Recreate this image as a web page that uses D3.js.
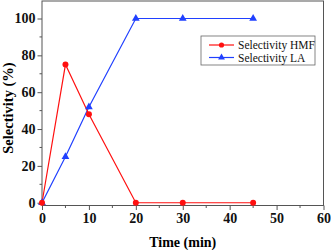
<!DOCTYPE html>
<html>
<head>
<meta charset="utf-8">
<script src="https://cdn.jsdelivr.net/npm/d3@7"></script>
<style>
  body { margin: 0; background: #fff; }
  svg { display: block; font-family: "Liberation Serif", "Times New Roman", serif; }
</style>
</head>
<body>
<div id="chart"></div>
<script>
// data
const times = [0, 5, 10, 20, 30, 45];
const hmf = [0, 75, 48, 0, 0, 0];
const la = [0, 25, 52, 100, 100, 100];
const xTicks = [0, 10, 20, 30, 40, 50, 60];
const yTicks = [0, 20, 40, 60, 80, 100];

const W = 331, H = 250;
const svg = d3.select('#chart').append('svg').attr('width', W).attr('height', H);

const x = d3.scaleLinear().domain([0, 60]).range([42, 323.5]);
const y = d3.scaleLinear().domain([-1.5, 109.5]).range([205.5, 1]);

// frame
svg.append('rect')
    .attr('x', x(0)).attr('y', y(109.5))
    .attr('width', x(60) - x(0)).attr('height', y(-1.5) - y(109.5))
    .attr('fill', 'none').attr('stroke', '#555').attr('stroke-width', 1);

// minor ticks
const xMinor = d3.range(5, 60, 10);
const yMinor = d3.range(10, 110, 20);
svg.append('g').selectAll('line').data(xMinor).join('line')
    .attr('x1', d => x(d)).attr('x2', d => x(d))
    .attr('y1', y(-1.5)).attr('y2', y(-1.5) + 2.5)
    .attr('stroke', '#555');
svg.append('g').selectAll('line').data(yMinor).join('line')
    .attr('x1', x(0) - 2.5).attr('x2', x(0))
    .attr('y1', d => y(d)).attr('y2', d => y(d))
    .attr('stroke', '#555');

const xAxis = svg.append('g')
    .attr('transform', `translate(0,${y(-1.5)})`)
    .call(d3.axisBottom(x).tickValues(xTicks).tickSize(4.5).tickPadding(3));
const yAxis = svg.append('g')
    .attr('transform', `translate(${x(0)},0)`)
    .call(d3.axisLeft(y).tickValues(yTicks).tickSize(4.5).tickPadding(2));
[xAxis, yAxis].forEach(g => {
    g.select('.domain').remove();
    g.selectAll('line').attr('stroke', '#555');
    g.selectAll('text')
        .attr('font-family', '"Liberation Serif", serif')
        .attr('font-weight', 'bold')
        .attr('font-size', 14)
        .attr('fill', '#111');
});

// axis titles
svg.append('text')
    .attr('x', (x(0) + x(60)) / 2).attr('y', 246.5)
    .attr('text-anchor', 'middle')
    .attr('font-weight', 'bold').attr('font-size', 14)
    .text('Time (min)');
svg.append('text')
    .attr('transform', 'translate(13,108) rotate(-90)')
    .attr('text-anchor', 'middle')
    .attr('font-weight', 'bold').attr('font-size', 14.5)
    .text('Selectivity (%)');

const red = '#ff1010', blue = '#2040ff';
const line = d3.line().x(d => x(d[0])).y(d => y(d[1]));
const hmfPts = times.map((t, i) => [t, hmf[i]]);
const laPts = times.map((t, i) => [t, la[i]]);

svg.append('path').datum(laPts).attr('d', line)
    .attr('fill', 'none').attr('stroke', blue).attr('stroke-width', 1.2);
svg.append('path').datum(hmfPts).attr('d', line)
    .attr('fill', 'none').attr('stroke', red).attr('stroke-width', 1.2);

const tri = d3.symbol().type(d3.symbolTriangle).size(26);
svg.append('g').selectAll('path').data(laPts).join('path')
    .attr('transform', d => `translate(${x(d[0])},${y(d[1])})`)
    .attr('d', tri).attr('fill', blue);
svg.append('g').selectAll('circle').data(hmfPts).join('circle')
    .attr('cx', d => x(d[0])).attr('cy', d => y(d[1])).attr('r', 3)
    .attr('fill', red);

// legend
const lg = svg.append('g').attr('transform', 'translate(201,36)');
lg.append('rect').attr('width', 114).attr('height', 29)
    .attr('fill', '#fff').attr('stroke', '#666').attr('stroke-width', 0.8);
const items = [['Selectivity HMF', red, 'circle'], ['Selectivity LA', blue, 'tri']];
items.forEach(([label, color, shape], i) => {
    const cy = 9 + i * 12.5;
    lg.append('line').attr('x1', 8).attr('x2', 33).attr('y1', cy).attr('y2', cy)
        .attr('stroke', color).attr('stroke-width', 1.2);
    if (shape === 'circle') {
        lg.append('circle').attr('cx', 20.5).attr('cy', cy).attr('r', 2.6).attr('fill', color);
    } else {
        lg.append('path').attr('transform', `translate(20.5,${cy})`)
            .attr('d', d3.symbol().type(d3.symbolTriangle).size(20)).attr('fill', color);
    }
    lg.append('text').attr('x', 37).attr('y', cy + 4)
        .attr('font-size', 11.5).attr('fill', '#111').text(label);
});
</script>
</body>
</html>
